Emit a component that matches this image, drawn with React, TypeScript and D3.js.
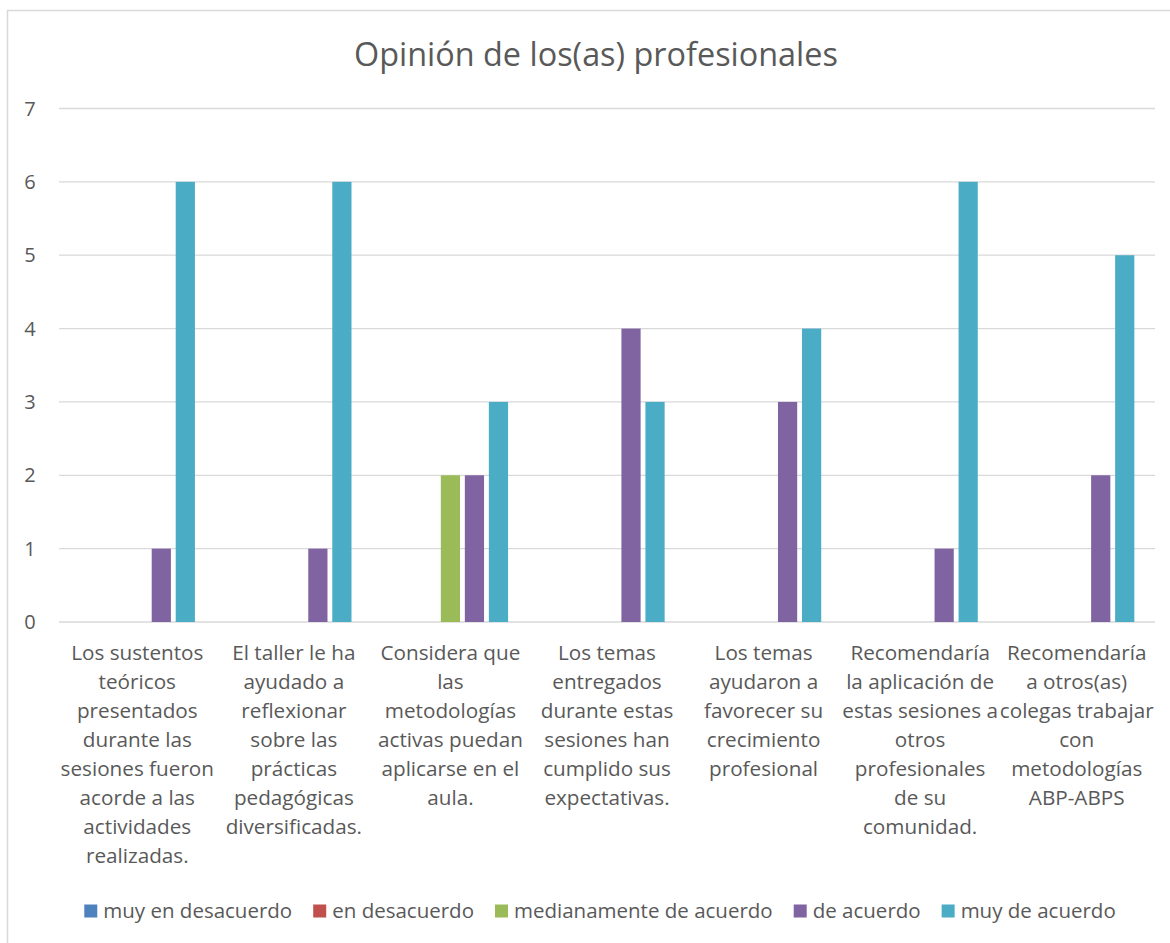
import React, { useEffect, useRef } from "react";
import * as d3 from "d3";

const WIDTH = 1170;
const HEIGHT = 943;
const FONT = "'Open Sans', Lato, sans-serif";
const TEXT_COLOR = "#595959";
const GRID_COLOR = "#d9d9d9";

const TITLE = "Opinión de los(as) profesionales";

// category labels, already broken into the lines shown under the axis
const categoryLines = [
  ["Los sustentos", "teóricos", "presentados", "durante las", "sesiones fueron", "acorde a las", "actividades", "realizadas."],
  ["El taller le ha", "ayudado a", "reflexionar", "sobre las", "prácticas", "pedagógicas", "diversificadas."],
  ["Considera que", "las", "metodologías", "activas puedan", "aplicarse en el", "aula."],
  ["Los temas", "entregados", "durante estas", "sesiones han", "cumplido sus", "expectativas."],
  ["Los temas", "ayudaron a", "favorecer su", "crecimiento", "profesional"],
  ["Recomendaría", "la aplicación de", "estas sesiones a", "otros", "profesionales", "de su", "comunidad."],
  ["Recomendaría", "a otros(as)", "colegas trabajar", "con", "metodologías", "ABP-ABPS"]
];

const seriesNames = ["muy en desacuerdo", "en desacuerdo", "medianamente de acuerdo", "de acuerdo", "muy de acuerdo"];
const seriesColors = ["#4f81bd", "#c0504d", "#9bbb59", "#8064a2", "#4bacc6"];

const muyEnDesacuerdo = [0, 0, 0, 0, 0, 0, 0];
const enDesacuerdo = [0, 0, 0, 0, 0, 0, 0];
const medianamente = [0, 0, 2, 0, 0, 0, 0];
const deAcuerdo = [1, 1, 2, 4, 3, 1, 2];
const muyDeAcuerdo = [6, 6, 3, 3, 4, 6, 5];

const seriesValues = [muyEnDesacuerdo, enDesacuerdo, medianamente, deAcuerdo, muyDeAcuerdo];
const yTicks = [0, 1, 2, 3, 4, 5, 6, 7];

const MARGIN = { left: 59, right: 15, top: 108.5, bottom: 321 };

export default function App() {
  const ref = useRef<SVGSVGElement | null>(null);

  useEffect(() => {
    const svg = d3.select(ref.current);
    svg.selectAll("*").remove();

    const catIndex = categoryLines.map((_, i) => i);
    const x0 = d3
      .scaleBand<number>()
      .domain(catIndex)
      .range([MARGIN.left, WIDTH - MARGIN.right])
      .padding(0);
    const x1 = d3
      .scaleBand<number>()
      .domain(seriesNames.map((_, i) => i))
      .range([0, x0.bandwidth()])
      .paddingInner(0.2)
      .paddingOuter(0.86);
    const y = d3
      .scaleLinear()
      .domain([0, 7])
      .range([HEIGHT - MARGIN.bottom, MARGIN.top]);

    // chart frame
    svg
      .append("rect")
      .attr("x", 7.5)
      .attr("y", 10.5)
      .attr("width", WIDTH)
      .attr("height", HEIGHT)
      .attr("fill", "#fff")
      .attr("stroke", GRID_COLOR)
      .attr("stroke-width", 1.5);

    svg
      .append("text")
      .attr("x", 596)
      .attr("y", 66)
      .attr("text-anchor", "middle")
      .attr("font-size", 32.4)
      .attr("fill", TEXT_COLOR)
      .text(TITLE);

    // grid + y labels
    const grid = svg.append("g");
    yTicks.forEach((t) => {
      grid
        .append("line")
        .attr("x1", MARGIN.left)
        .attr("x2", WIDTH - MARGIN.right)
        .attr("y1", y(t))
        .attr("y2", y(t))
        .attr("stroke", GRID_COLOR)
        .attr("stroke-width", 1.3);
      grid
        .append("text")
        .attr("x", 30)
        .attr("y", y(t))
        .attr("dy", "0.35em")
        .attr("text-anchor", "middle")
        .attr("font-size", 20)
        .attr("fill", TEXT_COLOR)
        .text(t);
    });

    // bars
    const bars = svg.append("g");
    seriesValues.forEach((vals, s) => {
      vals.forEach((v, c) => {
        if (!v) return;
        bars
          .append("rect")
          .attr("x", (x0(c) ?? 0) + (x1(s) ?? 0))
          .attr("y", y(v))
          .attr("width", x1.bandwidth())
          .attr("height", y(0) - y(v))
          .attr("fill", seriesColors[s]);
      });
    });

    // category labels
    const labels = svg.append("g");
    categoryLines.forEach((lines, c) => {
      const cx = (x0(c) ?? 0) + x0.bandwidth() / 2;
      const t = labels
        .append("text")
        .attr("text-anchor", "middle")
        .attr("font-size", 20.7)
        .attr("fill", TEXT_COLOR);
      lines.forEach((line, k) => {
        t.append("tspan")
          .attr("x", cx)
          .attr("y", 660 + k * 29)
          .text(line);
      });
    });

    // legend, laid out from measured text widths
    const legend = svg.append("g");
    const items = seriesNames.map((name, i) => {
      const g = legend.append("g");
      g.append("rect")
        .attr("x", 0)
        .attr("y", -6.5)
        .attr("width", 13)
        .attr("height", 13)
        .attr("fill", seriesColors[i]);
      const txt = g
        .append("text")
        .attr("x", 19)
        .attr("dy", "0.35em")
        .attr("font-size", 20.5)
        .attr("fill", TEXT_COLOR)
        .text(name);
      const w = 19 + (txt.node() as SVGTextElement).getComputedTextLength();
      return { g, w };
    });
    const gap = 21;
    const total = d3.sum(items, (d) => d.w) + gap * (items.length - 1);
    let cursor = 600 - total / 2;
    items.forEach((it) => {
      it.g.attr("transform", `translate(${cursor},911)`);
      cursor += it.w + gap;
    });
  }, []);

  return (
    <svg
      ref={ref}
      width={WIDTH}
      height={HEIGHT}
      style={{ position: "absolute", left: 0, top: 0, fontFamily: FONT }}
    />
  );
}
